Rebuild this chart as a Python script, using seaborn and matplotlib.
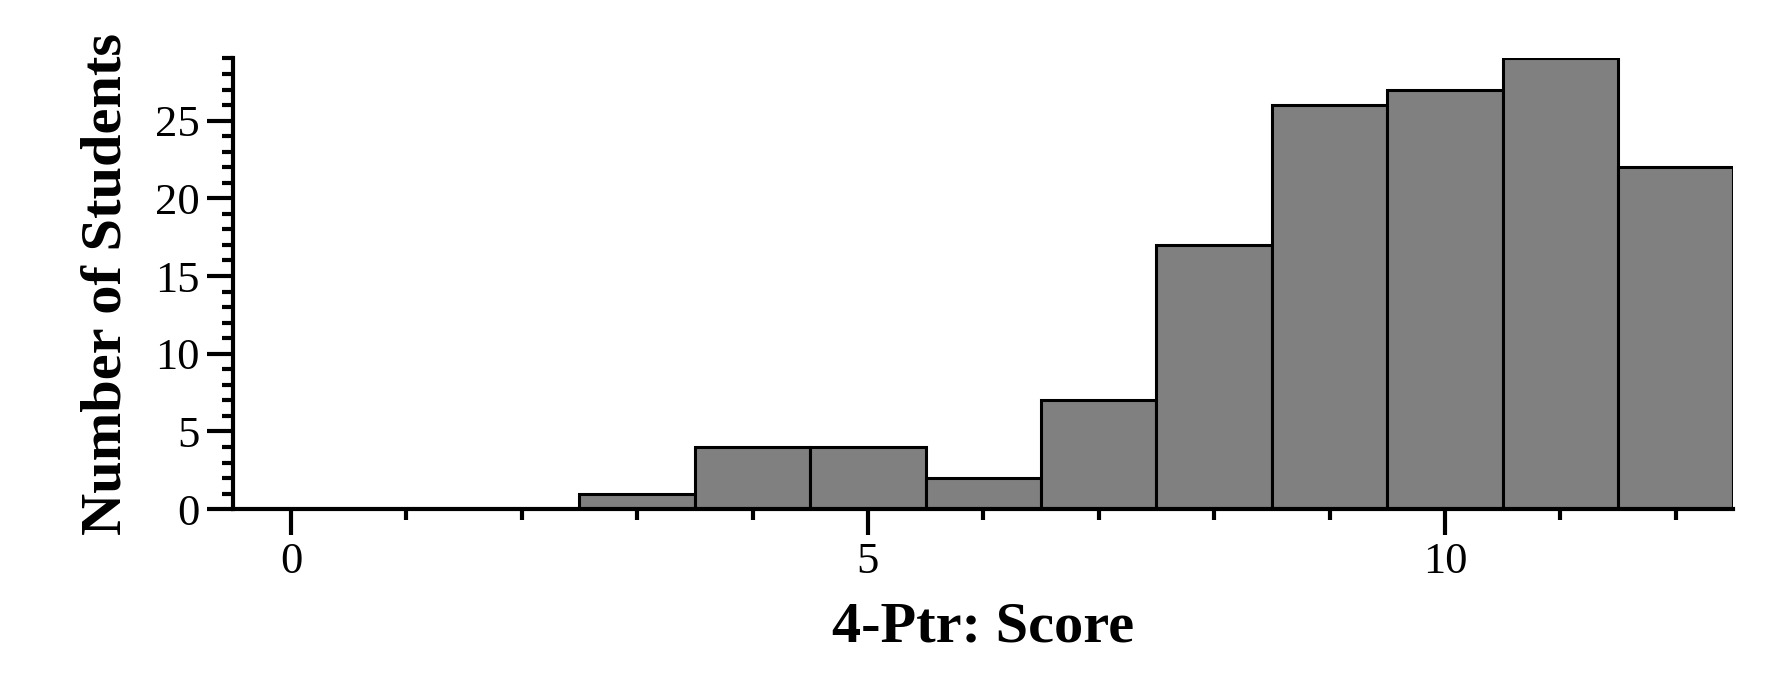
import matplotlib
matplotlib.use("Agg")
import matplotlib.pyplot as plt
import seaborn as sns
import numpy as np
from matplotlib.ticker import MultipleLocator

# datos
puntajes = [0, 1, 2, 3, 4, 5, 6, 7, 8, 9, 10, 11, 12]
estudiantes = [0, 0, 0, 1, 4, 4, 2, 7, 17, 26, 27, 29, 22]

sns.set_theme(style="ticks")
plt.rcParams['font.family'] = ['Liberation Serif', 'DejaVu Serif']
plt.rcParams['text.color'] = 'black'
plt.rcParams['axes.labelcolor'] = 'black'
plt.rcParams['xtick.color'] = 'black'
plt.rcParams['ytick.color'] = 'black'
plt.rcParams['axes.edgecolor'] = 'black'

fig = plt.figure(figsize=(17.67, 6.88), dpi=100)
ax = fig.add_axes([0.132, 0.26, 0.849, 0.655])

sns.histplot(x=puntajes, weights=estudiantes, discrete=True, ax=ax,
             color='#808080', edgecolor='black', linewidth=2.2, alpha=1)

ax.set_xlim(-0.5, 12.5)
ax.set_ylim(0, 29)
ax.xaxis.set_major_locator(MultipleLocator(5))
ax.xaxis.set_minor_locator(MultipleLocator(1))
ax.yaxis.set_major_locator(MultipleLocator(5))
ax.yaxis.set_minor_locator(MultipleLocator(1))

sns.despine(ax=ax)
for s in ['left', 'bottom']:
    ax.spines[s].set_linewidth(3)
ax.tick_params(which='major', length=19, width=3, labelsize=32, pad=5, direction='out')
ax.tick_params(which='minor', length=8, width=3, direction='out')

ax.set_xlabel('4-Ptr: Score', fontsize=42, fontweight='bold', labelpad=14)
ax.set_ylabel('Number of Students', fontsize=42, fontweight='bold', labelpad=16)

plt.savefig('out.png', dpi=100)
